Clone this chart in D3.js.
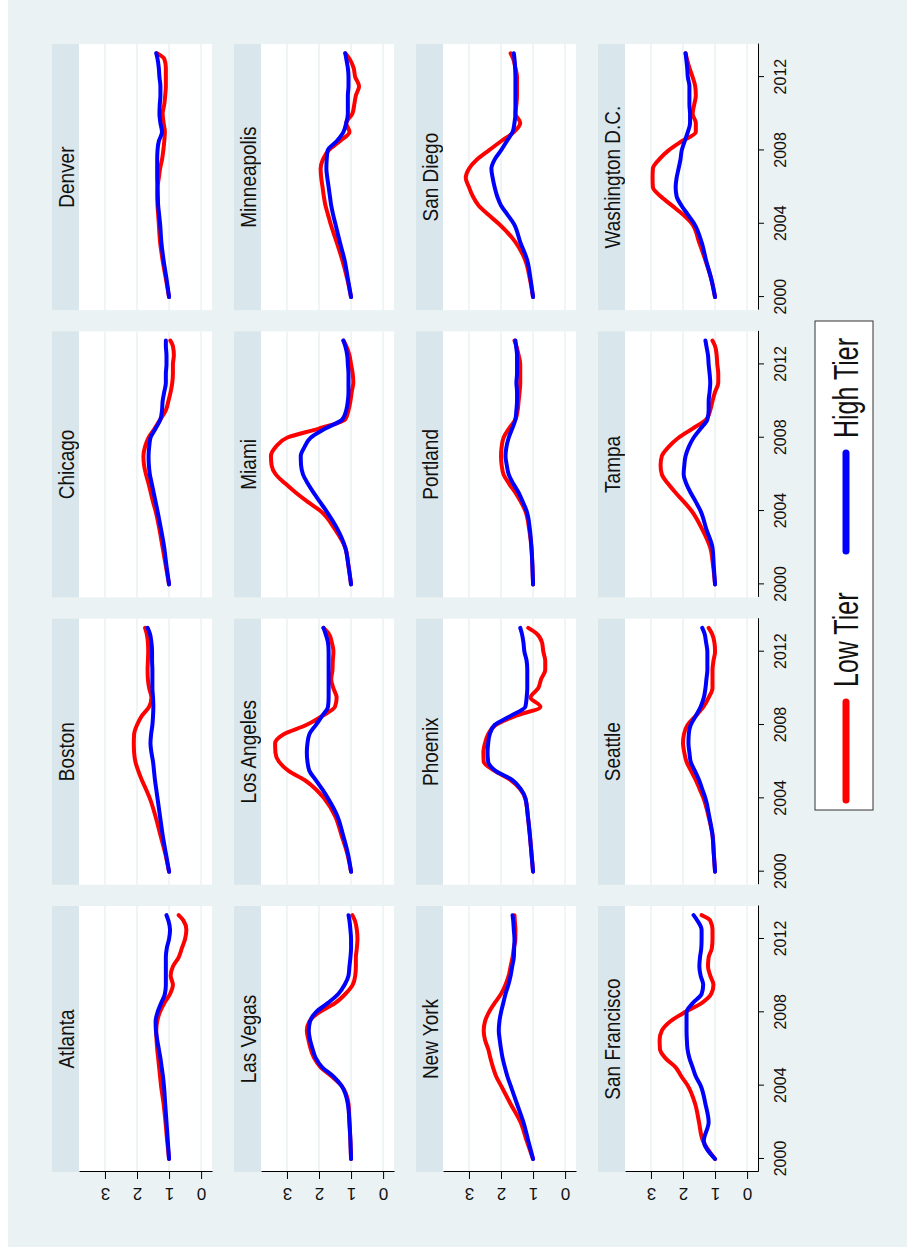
<!DOCTYPE html>
<html lang="en">
<head>
<meta charset="UTF-8">
<title>Low vs High Tier house prices by city</title>
<script src="https://d3js.org/d3.v7.min.js"></script>
<style>
    body { margin: 0; background: #fff; }
    text { font-family: "Liberation Sans", Arial, sans-serif; fill: #111; }
</style>
</head>
<body>
<div id="chart"></div>
<script>
    const cities = ["Atlanta", "Boston", "Chicago", "Denver",
        "Las Vegas", "Los Angeles", "Miami", "Minneapolis",
        "New York", "Phoenix", "Portland", "San Diego",
        "San Francisco", "Seattle", "Tampa", "Washington D.C."];

    const years = [2000, 2001, 2002, 2003, 2004, 2004.5, 2005, 2005.5, 2006, 2006.5, 2007, 2007.5,
        2008, 2008.5, 2009, 2009.5, 2010, 2010.5, 2011, 2011.5, 2012, 2012.5, 2013, 2013.3];

    // index relative to 2000 (one row per city, same order as cities)
    const lowTier = [
        [1.0, 1.06, 1.11, 1.17, 1.25, 1.28, 1.31, 1.34, 1.37, 1.39, 1.4, 1.37, 1.29, 1.15, 0.97, 0.88, 0.95, 0.88, 0.7, 0.6, 0.5, 0.46, 0.55, 0.7],
        [1.0, 1.12, 1.27, 1.42, 1.6, 1.72, 1.85, 1.96, 2.05, 2.09, 2.1, 2.09, 2.0, 1.85, 1.62, 1.55, 1.62, 1.66, 1.67, 1.66, 1.65, 1.66, 1.7, 1.75],
        [1.0, 1.1, 1.2, 1.3, 1.42, 1.5, 1.57, 1.64, 1.72, 1.78, 1.8, 1.75, 1.64, 1.45, 1.27, 1.1, 1.02, 0.95, 0.9, 0.88, 0.88, 0.85, 0.88, 0.96],
        [1.0, 1.1, 1.2, 1.28, 1.32, 1.34, 1.36, 1.37, 1.36, 1.32, 1.28, 1.22, 1.18, 1.15, 1.13, 1.17, 1.2, 1.15, 1.12, 1.1, 1.1, 1.1, 1.15, 1.38],
        [1.0, 1.02, 1.05, 1.08, 1.3, 1.6, 1.95, 2.15, 2.26, 2.33, 2.38, 2.3, 2.0, 1.5, 1.18, 0.95, 0.87, 0.85, 0.85, 0.82, 0.8, 0.82, 0.88, 0.96],
        [1.0, 1.12, 1.3, 1.49, 1.84, 2.1, 2.45, 2.95, 3.25, 3.36, 3.37, 3.1, 2.4, 1.9, 1.5, 1.45, 1.55, 1.62, 1.58, 1.57, 1.55, 1.6, 1.7, 1.86],
        [1.0, 1.08, 1.18, 1.5, 1.95, 2.35, 2.72, 3.05, 3.35, 3.48, 3.5, 3.35, 3.0, 2.0, 1.18, 1.08, 1.02, 0.98, 0.93, 0.95, 1.0, 1.05, 1.15, 1.24],
        [1.0, 1.12, 1.27, 1.45, 1.64, 1.72, 1.8, 1.85, 1.89, 1.93, 1.95, 1.88, 1.7, 1.35, 1.05, 1.15, 0.96, 0.9, 0.85, 0.75, 0.87, 0.92, 1.05, 1.18],
        [1.0, 1.2, 1.39, 1.7, 2.0, 2.15, 2.25, 2.33, 2.4, 2.5, 2.54, 2.5, 2.38, 2.2, 2.0, 1.86, 1.76, 1.7, 1.64, 1.6, 1.55, 1.55, 1.57, 1.58],
        [1.0, 1.05, 1.1, 1.16, 1.24, 1.4, 1.7, 2.2, 2.54, 2.55, 2.5, 2.4, 2.17, 1.55, 0.77, 1.08, 0.84, 0.75, 0.62, 0.62, 0.68, 0.72, 0.9, 1.15],
        [1.0, 1.02, 1.05, 1.12, 1.24, 1.38, 1.55, 1.75, 1.92, 1.98, 2.0, 1.98, 1.92, 1.75, 1.55, 1.48, 1.45, 1.42, 1.4, 1.4, 1.4, 1.45, 1.52, 1.58],
        [1.0, 1.1, 1.24, 1.55, 2.07, 2.4, 2.7, 2.88, 3.0, 3.1, 3.0, 2.75, 2.38, 2.0, 1.6, 1.4, 1.55, 1.52, 1.5, 1.5, 1.5, 1.55, 1.62, 1.7],
        [1.0, 1.38, 1.5, 1.62, 1.85, 2.05, 2.23, 2.55, 2.72, 2.73, 2.66, 2.4, 1.95, 1.42, 1.12, 1.05, 1.15, 1.22, 1.2, 1.1, 1.08, 1.08, 1.15, 1.42],
        [1.0, 1.04, 1.08, 1.2, 1.36, 1.48, 1.6, 1.75, 1.89, 1.96, 2.0, 1.97, 1.86, 1.6, 1.36, 1.2, 1.08, 1.08, 1.08, 1.05, 1.0, 1.02, 1.1, 1.2],
        [1.0, 1.06, 1.15, 1.4, 1.73, 1.97, 2.23, 2.47, 2.66, 2.7, 2.66, 2.45, 2.14, 1.7, 1.27, 1.15, 1.08, 1.0, 0.9, 0.9, 0.93, 0.95, 1.0, 1.08],
        [1.0, 1.12, 1.3, 1.5, 1.72, 2.0, 2.35, 2.7, 2.94, 2.95, 2.94, 2.75, 2.45, 2.04, 1.6, 1.6, 1.7, 1.65, 1.6, 1.62, 1.7, 1.8, 1.88, 1.92]
    ];

    const highTier = [
        [1.0, 1.04, 1.08, 1.12, 1.16, 1.19, 1.23, 1.27, 1.32, 1.37, 1.41, 1.42, 1.36, 1.25, 1.13, 1.1, 1.1, 1.1, 1.1, 1.07, 1.0, 0.97, 1.02, 1.08],
        [1.0, 1.1, 1.2, 1.28, 1.36, 1.4, 1.44, 1.47, 1.5, 1.55, 1.58, 1.56, 1.52, 1.5, 1.49, 1.5, 1.52, 1.52, 1.52, 1.53, 1.53, 1.55, 1.6, 1.67],
        [1.0, 1.08, 1.15, 1.25, 1.36, 1.42, 1.48, 1.54, 1.6, 1.63, 1.64, 1.62, 1.58, 1.42, 1.27, 1.22, 1.2, 1.15, 1.1, 1.1, 1.08, 1.08, 1.1, 1.1],
        [1.0, 1.08, 1.17, 1.24, 1.28, 1.31, 1.34, 1.35, 1.36, 1.37, 1.37, 1.37, 1.36, 1.32, 1.22, 1.27, 1.3, 1.29, 1.27, 1.27, 1.3, 1.32, 1.36, 1.4],
        [1.0, 1.02, 1.05, 1.1, 1.3, 1.55, 1.9, 2.1, 2.2, 2.28, 2.32, 2.28, 2.1, 1.73, 1.4, 1.2, 1.08, 1.05, 1.02, 1.0, 1.0, 1.02, 1.05, 1.08],
        [1.0, 1.1, 1.25, 1.42, 1.72, 1.9, 2.1, 2.3, 2.36, 2.38, 2.36, 2.3, 2.1, 1.9, 1.72, 1.7, 1.7, 1.7, 1.7, 1.7, 1.7, 1.72, 1.8, 1.86],
        [1.0, 1.08, 1.18, 1.42, 1.77, 1.97, 2.17, 2.35, 2.5, 2.56, 2.57, 2.45, 2.26, 1.8, 1.27, 1.15, 1.1, 1.08, 1.08, 1.08, 1.1, 1.12, 1.18, 1.24],
        [1.0, 1.1, 1.2, 1.35, 1.49, 1.56, 1.62, 1.66, 1.7, 1.74, 1.77, 1.76, 1.73, 1.45, 1.24, 1.15, 1.1, 1.1, 1.1, 1.08, 1.08, 1.1, 1.15, 1.18],
        [1.0, 1.15, 1.3, 1.5, 1.7, 1.8, 1.88, 1.95, 2.0, 2.04, 2.07, 2.05, 2.0, 1.93, 1.86, 1.77, 1.7, 1.65, 1.6, 1.59, 1.58, 1.6, 1.62, 1.64],
        [1.0, 1.05, 1.1, 1.16, 1.24, 1.38, 1.64, 2.17, 2.4, 2.42, 2.4, 2.35, 2.2, 1.7, 1.24, 1.2, 1.18, 1.18, 1.18, 1.2, 1.27, 1.3, 1.35, 1.4],
        [1.0, 1.02, 1.05, 1.1, 1.2, 1.32, 1.45, 1.62, 1.76, 1.82, 1.86, 1.83, 1.76, 1.65, 1.55, 1.52, 1.5, 1.5, 1.52, 1.5, 1.5, 1.5, 1.53, 1.55],
        [1.0, 1.08, 1.18, 1.4, 1.6, 1.8, 2.0, 2.12, 2.2, 2.26, 2.3, 2.2, 2.0, 1.82, 1.64, 1.58, 1.55, 1.55, 1.55, 1.55, 1.55, 1.56, 1.58, 1.6],
        [1.0, 1.35, 1.2, 1.3, 1.45, 1.6, 1.7, 1.8, 1.86, 1.88, 1.89, 1.89, 1.89, 1.7, 1.42, 1.37, 1.45, 1.49, 1.47, 1.43, 1.42, 1.42, 1.55, 1.67],
        [1.0, 1.04, 1.08, 1.18, 1.3, 1.4, 1.5, 1.63, 1.76, 1.8, 1.83, 1.82, 1.76, 1.6, 1.45, 1.35, 1.3, 1.27, 1.24, 1.24, 1.24, 1.28, 1.33, 1.4],
        [1.0, 1.04, 1.08, 1.27, 1.45, 1.6, 1.76, 1.9, 1.98, 1.96, 1.92, 1.82, 1.67, 1.45, 1.24, 1.2, 1.2, 1.17, 1.15, 1.17, 1.2, 1.22, 1.27, 1.3],
        [1.0, 1.12, 1.28, 1.42, 1.65, 1.85, 2.05, 2.2, 2.23, 2.2, 2.14, 2.08, 2.04, 1.95, 1.85, 1.78, 1.78, 1.8, 1.8, 1.8, 1.85, 1.87, 1.9, 1.92]
    ];

    const valueTicks = [0, 1, 2, 3];
    const yearTicks = [2000, 2004, 2008, 2012];
    const legendLabels = ["Low Tier", "High Tier"];
    const tierColors = ["#ff0000", "#0000ff"];

    // the graph is laid out landscape, then turned a quarter turn to fit the page
    const W = 1247, H = 907;
    const svg = d3.select("#chart").append("svg")
        .attr("width", H)
        .attr("height", W);
    const g = svg.append("g")
        .attr("transform", `translate(0,${W}) rotate(-90)`);

    g.append("rect")
        .attr("x", 0).attr("y", 8)
        .attr("width", W).attr("height", H - 8)
        .attr("fill", "#eaf2f3");

    const panelW = 266, plotH = 133, stripH = 27;
    const colX = c => 75 + c * 287.3;
    const rowY = r => 52 + r * 182;

    const x = d3.scaleLinear().domain([1999.29, 2013.8]).range([0, panelW]);
    const y = d3.scaleLinear().domain([-0.34, 3.81]).range([plotH, 0]);

    const line = d3.line()
        .x((d, i) => x(years[i]))
        .y(d => y(d))
        .curve(d3.curveMonotoneX);

    cities.forEach((city, k) => {
        const r = Math.floor(k / 4), c = k % 4;
        const panel = g.append("g")
            .attr("transform", `translate(${colX(c)},${rowY(r)})`);

        panel.append("rect")
            .attr("width", panelW).attr("height", stripH)
            .attr("fill", "#d9e6eb");
        panel.append("text")
            .attr("transform", `translate(${panelW / 2},22) scale(1,1.2)`)
            .attr("text-anchor", "middle")
            .style("font-size", "19px")
            .text(city);

        const plot = panel.append("g").attr("transform", `translate(0,${stripH})`);
        plot.append("rect")
            .attr("width", panelW).attr("height", plotH)
            .attr("fill", "#fff");

        plot.selectAll(".grid")
            .data(valueTicks)
            .enter().append("line")
            .attr("class", "grid")
            .attr("x1", 0).attr("x2", panelW)
            .attr("y1", d => y(d)).attr("y2", d => y(d))
            .attr("stroke", "#eaf2f3")
            .attr("stroke-width", 1.5);

        [lowTier[k], highTier[k]].forEach((series, s) => {
            plot.append("path")
                .datum(series)
                .attr("fill", "none")
                .attr("stroke", tierColors[s])
                .attr("stroke-width", 4)
                .attr("stroke-linejoin", "round")
                .attr("stroke-linecap", "round")
                .attr("d", line);
        });

        if (c === 0) {
            const ax = plot.append("g")
                .call(d3.axisLeft(y).tickValues(valueTicks).tickFormat(d3.format("d")).tickSize(7).tickSizeOuter(0));
            ax.select(".domain").attr("stroke", "#000");
            ax.selectAll("text")
                .attr("transform", "rotate(-90)")
                .attr("x", 0).attr("y", -16).attr("dy", 0)
                .attr("text-anchor", "middle")
                .style("font-size", "17px")
                .style("font-family", "'Liberation Sans', Arial, sans-serif")
                .attr("fill", "#111");
        }
        if (r === 3) {
            const ax = plot.append("g")
                .attr("transform", `translate(0,${plotH})`)
                .call(d3.axisBottom(x).tickValues(yearTicks).tickFormat(d3.format("d")).tickSize(6).tickSizeOuter(0));
            ax.select(".domain").attr("stroke", "#000");
            ax.selectAll("text")
                .attr("y", 28).attr("dy", 0)
                .style("font-size", "16px")
                .style("font-family", "'Liberation Sans', Arial, sans-serif")
                .attr("fill", "#111");
        }
    });

    // legend
    const legend = g.append("g");
    legend.append("rect")
        .attr("x", 437).attr("y", 815)
        .attr("width", 489).attr("height", 58)
        .attr("fill", "#fff")
        .attr("stroke", "#333");

    const legendX = [447, 696];
    legendLabels.forEach((label, i) => {
        legend.append("line")
            .attr("x1", legendX[i]).attr("x2", legendX[i] + 98)
            .attr("y1", 846).attr("y2", 846)
            .attr("stroke", tierColors[i])
            .attr("stroke-width", 7)
            .attr("stroke-linecap", "round");
        legend.append("text")
            .attr("transform", `translate(${legendX[i] + 113},858) scale(1,1.4)`)
            .style("font-size", "25px")
            .text(label);
    });
</script>
</body>
</html>
